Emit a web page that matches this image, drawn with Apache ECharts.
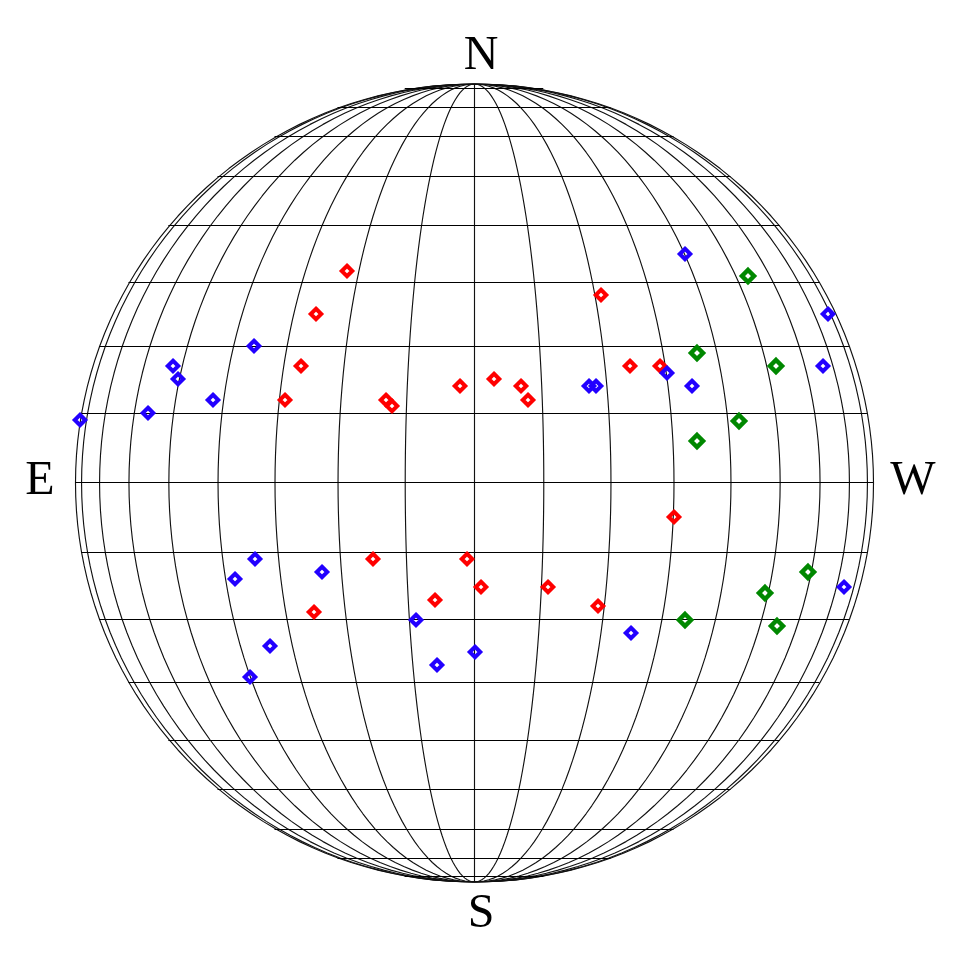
<!DOCTYPE html>
<html>
<head>
<meta charset="utf-8">
<style>html,body{margin:0;padding:0;background:#fff}#c{width:970px;height:967px}</style>
<script src="https://cdn.jsdelivr.net/npm/echarts@6/dist/echarts.min.js"></script>
</head>
<body>
<div id="c"></div>
<script>
// Marker positions on the sky disc, as offsets from its centre (disc radius = 399)
const blueX = [211, 354, 349, 193, 218, 115, 122, -220, -301, -296, -261, -326, -394, -219, -239, -152, 370, 157, -58, 1, -37, -204, -224];
const blueY = [229, 169, 117, 110, 97, 97, 97, 137, 117, 104, 83, 70, 63, -76, -96, -89, -104, -150, -137, -169, -182, -163, -194];
const redX = [-127, -158, -173, -189, -88, -82, -14, 20, 47, 54, 127, 156, 186, 200, -7, -101, 7, 74, -39, -160, 124];
const redY = [212, 169, 117, 83, 83, 77, 97, 104, 97, 83, 188, 117, 117, -34, -76, -76, -104, -104, -117, -129, -123];
const greenX = [274, 223, 302, 265, 223, 334, 291, 211, 303];
const greenY = [207, 130, 117, 62, 42, -89, -110, -137, -143];
const compassLabels = ['N', 'S', 'E', 'W'];
const graticuleStep = [10];

const R = 399;
const rad = d => d * Math.PI / 180;
const zip = (a, b) => a.map((v, i) => [v, b[i]]);
const gridSeries = [];
const lineBase = { type: 'line', showSymbol: false, silent: true, z: 1 };
const meridianStyle = { color: '#111', width: 1.15 };
const parallelStyle = { color: '#000', width: 1.1 };
for (let lon = -90; lon <= 90; lon += graticuleStep[0]) {
  const pts = [];
  for (let lat = -90; lat <= 90; lat += 2) {
    pts.push([R * Math.sin(rad(lon)) * Math.cos(rad(lat)) + 0.5, R * Math.sin(rad(lat))]);
  }
  gridSeries.push(Object.assign({}, lineBase, { lineStyle: meridianStyle, data: pts }));
}
for (let lat = -80; lat <= 80; lat += graticuleStep[0]) {
  // parallels snap to whole pixel rows so they stay crisp
  const y = Math.ceil(400 * Math.sin(rad(lat)) + 0.1) - 0.5;
  const x = R * Math.cos(rad(lat));
  gridSeries.push(Object.assign({}, lineBase, { lineStyle: parallelStyle, data: [[-x, y], [x, y]] }));
}
const marks = (name, xs, ys, color, size, border) => ({
  name, type: 'scatter', symbol: 'diamond', symbolSize: size, z: 5,
  itemStyle: { color: 'rgba(0,0,0,0)', borderColor: color, borderWidth: border, opacity: 1 },
  data: zip(xs, ys)
});
const labelPos = { N: [481, 56], S: [481, 914], E: [40, 481], W: [913, 481] };
const chart = echarts.init(document.getElementById('c'), null, { renderer: 'canvas' });
chart.setOption({
  animation: false,
  backgroundColor: '#fff',
  grid: { left: 474 - R, top: 483 - R, width: 2 * R, height: 2 * R },
  xAxis: { type: 'value', min: -R, max: R, show: false },
  yAxis: { type: 'value', min: -R, max: R, show: false },
  series: gridSeries.concat([
    marks('red', redX, redY, '#ff0000', 10.5, 4),
    marks('green', greenX, greenY, '#008800', 12, 4.5),
    marks('blue', blueX, blueY, '#2200ff', 10.5, 4)
  ]),
  graphic: compassLabels.map(t => ({
    type: 'text', x: labelPos[t][0], y: labelPos[t][1],
    style: { text: t, font: '48px "Liberation Serif"', fill: '#000', align: 'center', verticalAlign: 'middle' }
  }))
});
</script>
</body>
</html>
